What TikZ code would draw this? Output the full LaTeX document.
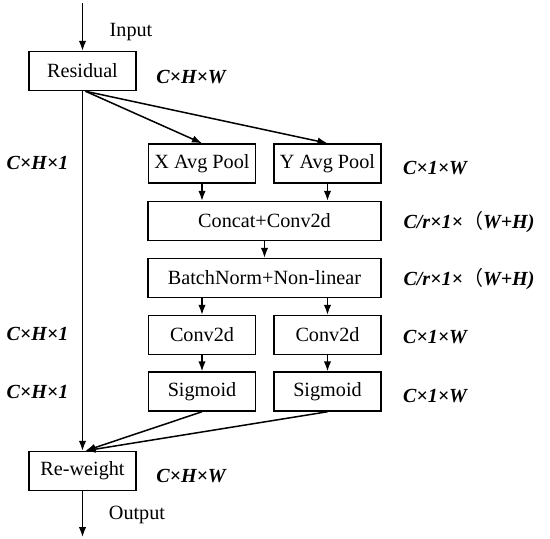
\documentclass[tikz,border=0pt]{standalone}
\usepackage{fontspec}
\setmainfont{Liberation Serif}
\newfontfamily\cjk{Noto Sans CJK SC}
\usetikzlibrary{arrows.meta}
\begin{document}
\begin{tikzpicture}[x=1pt,y=-1pt,
  every node/.style={font=\fontsize{20.2}{24}\selectfont},
  box/.style={draw,line width=1.5pt,minimum height=39pt,inner sep=0pt},
  sbox/.style={box,minimum width=107pt},
  wbox/.style={box,minimum width=233pt},
  dim/.style={font=\fontsize{20}{24}\selectfont\bfseries\itshape},
  arr/.style={line width=1.5pt,-{Latex[length=10pt,width=7.5pt]}}]
\useasboundingbox (0,0) rectangle (550,539);
\node[sbox] (res) at (82.5,71) {Residual};
\node[sbox] (xp) at (202,163.5) {X Avg Pool};
\node[sbox] (yp) at (327.5,163.5) {Y Avg Pool};
\node[wbox] (cat) at (264.5,221) {Concat+Conv2d};
\node[wbox] (bn) at (264.5,278) {BatchNorm+Non-linear};
\node[sbox] (cl) at (202,335) {Conv2d};
\node[sbox] (cr) at (327.5,335) {Conv2d};
\node[sbox] (sl) at (202,391.5) {Sigmoid};
\node[sbox] (sr) at (327.5,391.5) {Sigmoid};
\node[sbox] (rw) at (82.5,471) {Re-weight};
\coordinate (in) at (82.5,3);
\coordinate (out) at (82.5,537);
\node (tin) at (131,32) {Input};
\node (tout) at (137,515) {Output};
\node[dim] (d1) at (191,77) {C×H×W};
\node[dim] (d2) at (191,476) {C×H×W};
\node[dim] (l1) at (37.5,163) {C×H×1};
\node[dim] (l2) at (37.5,334) {C×H×1};
\node[dim] (l3) at (37.5,392) {C×H×1};
\node[dim] (r1) at (435,168) {C×1×W};
\node[dim] (r2) at (469,222) {C/r×1×{\cjk\mdseries\upshape （}W+H)};
\node[dim] (r3) at (469,279) {C/r×1×{\cjk\mdseries\upshape （}W+H)};
\node[dim] (r4) at (435,337) {C×1×W};
\node[dim] (r5) at (435,396) {C×1×W};
\draw[arr] (in) -- (res);
\draw[arr] (res.south) -- (rw.north);
\draw[arr] ([xshift=3pt]res.south) -- (xp.north);
\draw[arr] ([xshift=3pt]res.south) -- (yp.north);
\draw[arr] (xp) -- (xp|-cat.north);
\draw[arr] (yp) -- (yp|-cat.north);
\draw[arr] (cat) -- (bn);
\draw[arr] (cl|-bn.south) -- (cl);
\draw[arr] (cr|-bn.south) -- (cr);
\draw[arr] (cl) -- (sl);
\draw[arr] (cr) -- (sr);
\draw[arr] (sl.south) -- ([xshift=3pt]rw.north);
\draw[arr] (sr.south) -- ([xshift=3pt]rw.north);
\draw[arr] (rw) -- (out);
\end{tikzpicture}
\end{document}
